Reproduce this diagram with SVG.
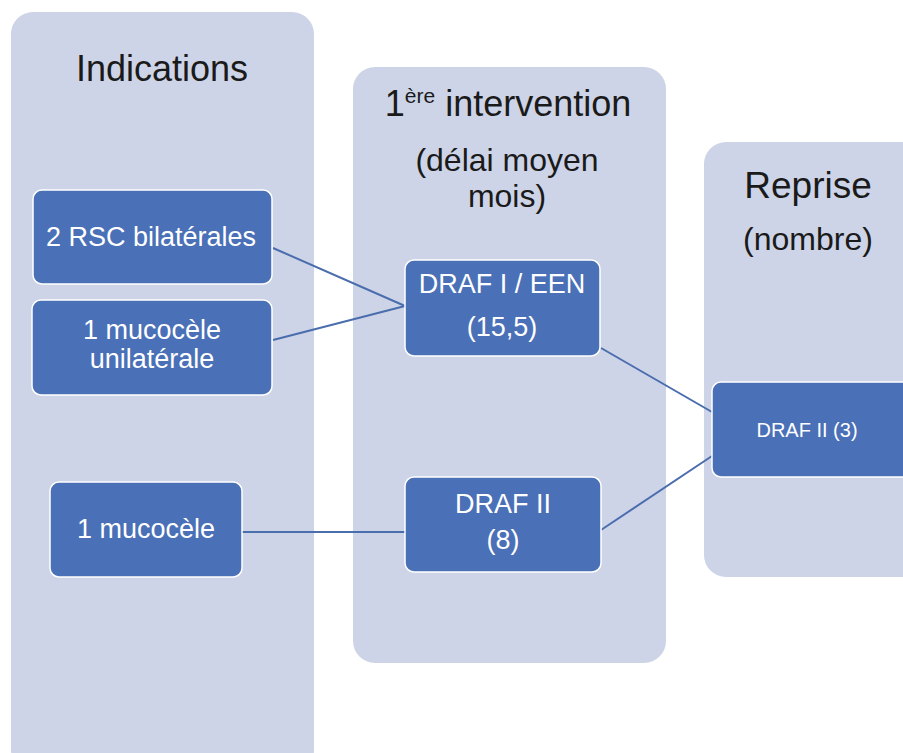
<svg xmlns="http://www.w3.org/2000/svg" width="903" height="753" viewBox="0 0 903 753">
  <style>
    .col { fill: #CDD4E7; }
    .node { fill: #4A70B7; stroke: #FFFFFF; stroke-width: 1.5; }
    .head { font-family: "Liberation Sans", Arial, sans-serif; fill: #1A1A1A; text-anchor: middle; }
    .lbl { font-family: "Liberation Sans", Arial, sans-serif; fill: #FFFFFF; text-anchor: middle; font-size: 27px; }
    .lbl.sm { font-size: 20px; }
    .conn { stroke: #4A6DAE; stroke-width: 2; fill: none; }
  </style>
  <rect width="903" height="753" fill="#FFFFFF"/>

  <g id="col-indications">
    <rect class="col" x="11" y="12" width="303" height="760" rx="22"/>
    <text class="head" x="162" y="81" font-size="36">Indications</text>
  </g>
  <g id="col-intervention">
    <rect class="col" x="353" y="67" width="313" height="596" rx="22"/>
    <text class="head" x="508" y="116" font-size="36">1<tspan font-size="21" dy="-13">ère</tspan><tspan dy="13"> intervention</tspan></text>
    <text class="head" x="507" y="171" font-size="32">(délai moyen</text>
    <text class="head" x="507" y="207" font-size="32">mois)</text>
  </g>
  <g id="col-reprise">
    <rect class="col" x="704" y="142" width="230" height="435" rx="22"/>
    <text class="head" x="808" y="198" font-size="37">Reprise</text>
    <text class="head" x="808" y="250" font-size="32">(nombre)</text>
  </g>

  <g id="connectors">
    <line class="conn" x1="273" y1="248" x2="405" y2="306"/>
    <line class="conn" x1="273" y1="340" x2="405" y2="306"/>
    <line class="conn" x1="242" y1="532" x2="405" y2="532"/>
    <line class="conn" x1="601" y1="348" x2="712" y2="412"/>
    <line class="conn" x1="601" y1="530" x2="712" y2="456"/>
  </g>

  <g id="n-rsc">
    <rect class="node" x="33" y="190" width="239" height="94" rx="9"/>
    <text class="lbl" x="151" y="246">2 RSC bilatérales</text>
  </g>
  <g id="n-mucocele-uni">
    <rect class="node" x="32" y="300" width="240" height="95" rx="9"/>
    <text class="lbl" x="152" y="339">1 mucocèle</text>
    <text class="lbl" x="152" y="368">unilatérale</text>
  </g>
  <g id="n-mucocele">
    <rect class="node" x="50" y="482" width="192" height="95" rx="9"/>
    <text class="lbl" x="146" y="538">1 mucocèle</text>
  </g>
  <g id="n-draf1">
    <rect class="node" x="405" y="260" width="195" height="96" rx="9"/>
    <text class="lbl" x="502" y="293">DRAF I / EEN</text>
    <text class="lbl" x="502" y="336">(15,5)</text>
  </g>
  <g id="n-draf2-8">
    <rect class="node" x="405" y="477" width="196" height="95" rx="9"/>
    <text class="lbl" x="503" y="513">DRAF II</text>
    <text class="lbl" x="503" y="549">(8)</text>
  </g>
  <g id="n-draf2-3">
    <rect class="node" x="712" y="382" width="200" height="95" rx="9"/>
    <text class="lbl sm" x="807" y="437">DRAF II (3)</text>
  </g>
</svg>
